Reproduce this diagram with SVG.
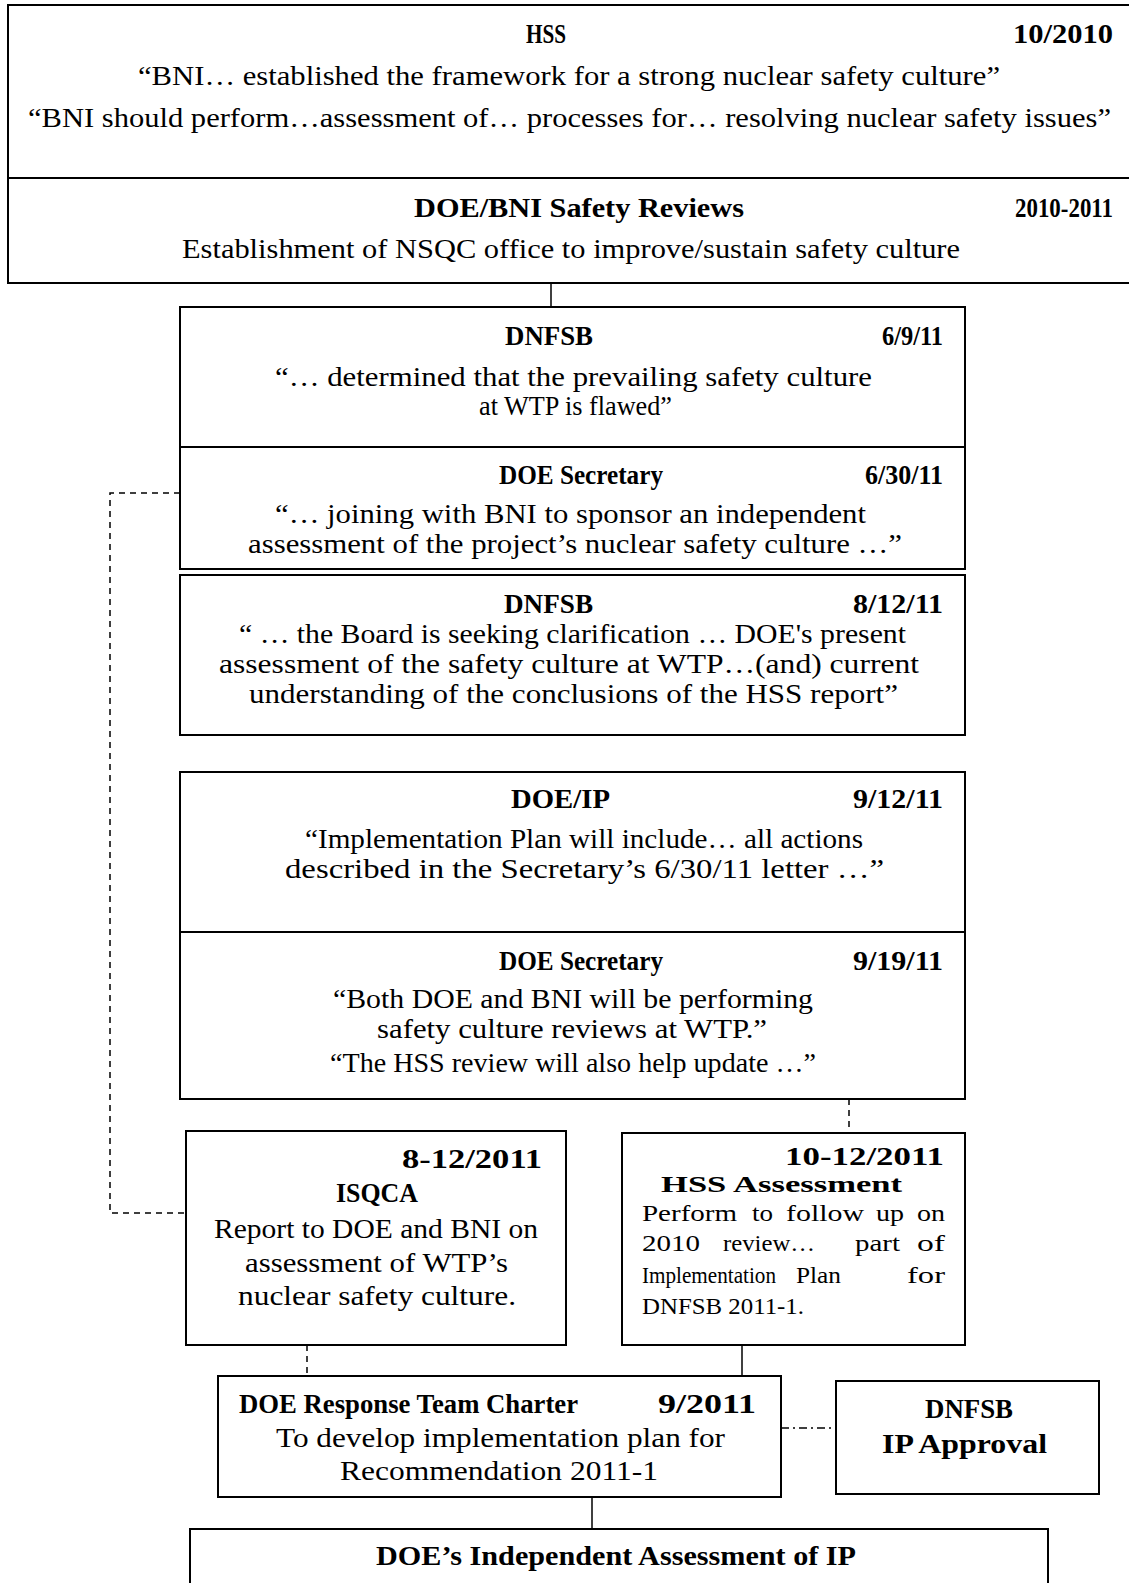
<svg xmlns="http://www.w3.org/2000/svg" width="1129" height="1583" viewBox="0 0 1129 1583">
<style>
rect.box{fill:#fff;stroke:#000;stroke-width:2}
text{font-family:"Liberation Serif","Times New Roman",serif;font-size:26.5px;fill:#000}
text.t{font-weight:bold}
text.big{font-size:28px}
text.d{font-size:25px}
text.h{font-size:24px}
text.tms{font-size:24px}
.solid{stroke:#000;stroke-width:1.5;fill:none}
.dash{stroke:#000;stroke-width:1.5;fill:none;stroke-dasharray:6 5}
.dashdot{stroke:#000;stroke-width:1.5;fill:none;stroke-dasharray:8 4 2 4}
</style>
<rect width="1129" height="1583" fill="#fff"/>
<g id="connectors">
<line class="solid" x1="551" y1="283" x2="551" y2="307"/>
<polyline class="dash" points="180,493 110,493 110,1213 186,1213"/>
<line class="dash" x1="849" y1="1099" x2="849" y2="1133"/>
<line class="dash" x1="307" y1="1345" x2="307" y2="1376"/>
<line class="solid" x1="742" y1="1345" x2="742" y2="1376"/>
<line class="dashdot" x1="781" y1="1428" x2="836" y2="1428"/>
<line class="solid" x1="592" y1="1497" x2="592" y2="1529"/>
</g>
<g id="hss-2010">
<rect class="box" x="8" y="5" width="1140" height="173"/>
<text class="t" x="526" y="43" textLength="40" lengthAdjust="spacingAndGlyphs">HSS</text>
<text class="t" x="1013" y="43" textLength="100" lengthAdjust="spacingAndGlyphs">10/2010</text>
<text x="138" y="85" textLength="862" lengthAdjust="spacingAndGlyphs">“BNI… established the framework for a strong nuclear safety culture”</text>
<text x="28" y="127" textLength="1083" lengthAdjust="spacingAndGlyphs">“BNI should perform…assessment of… processes for…  resolving nuclear safety issues”</text>
</g>
<g id="doe-bni-reviews">
<rect class="box" x="8" y="178" width="1140" height="105"/>
<text class="t" x="414" y="217" textLength="330" lengthAdjust="spacingAndGlyphs">DOE/BNI Safety Reviews</text>
<text class="t" x="1015" y="217" textLength="98" lengthAdjust="spacingAndGlyphs">2010-2011</text>
<text x="182" y="258" textLength="778" lengthAdjust="spacingAndGlyphs">Establishment of NSQC office to improve/sustain safety culture</text>
</g>
<g id="dnfsb-6-9">
<rect class="box" x="180" y="307" width="785" height="140"/>
<text class="t" x="505" y="345" textLength="88" lengthAdjust="spacingAndGlyphs">DNFSB</text>
<text class="t" x="882" y="345" textLength="61" lengthAdjust="spacingAndGlyphs">6/9/11</text>
<text x="275" y="386" textLength="597" lengthAdjust="spacingAndGlyphs">“… determined that the prevailing safety culture</text>
<text x="479" y="415" textLength="193" lengthAdjust="spacingAndGlyphs">at WTP is flawed”</text>
</g>
<g id="doe-sec-6-30">
<rect class="box" x="180" y="447" width="785" height="122"/>
<text class="t" x="499" y="484" textLength="164" lengthAdjust="spacingAndGlyphs">DOE Secretary</text>
<text class="t" x="865" y="484" textLength="78" lengthAdjust="spacingAndGlyphs">6/30/11</text>
<text x="275" y="523" textLength="591" lengthAdjust="spacingAndGlyphs">“… joining with BNI to sponsor an independent</text>
<text x="248" y="553" textLength="654" lengthAdjust="spacingAndGlyphs">assessment of the project’s nuclear safety culture …”</text>
</g>
<g id="dnfsb-8-12">
<rect class="box" x="180" y="575" width="785" height="160"/>
<text class="t" x="504" y="613" textLength="89" lengthAdjust="spacingAndGlyphs">DNFSB</text>
<text class="t" x="853" y="613" textLength="90" lengthAdjust="spacingAndGlyphs">8/12/11</text>
<text x="239" y="643" textLength="667" lengthAdjust="spacingAndGlyphs">“ … the Board is seeking clarification … DOE's present</text>
<text x="219" y="673" textLength="700" lengthAdjust="spacingAndGlyphs">assessment of the safety culture at WTP…(and) current</text>
<text x="249" y="703" textLength="649" lengthAdjust="spacingAndGlyphs">understanding of the conclusions of the HSS report”</text>
</g>
<g id="doe-ip">
<rect class="box" x="180" y="772" width="785" height="160"/>
<text class="t" x="511" y="808" textLength="99" lengthAdjust="spacingAndGlyphs">DOE/IP</text>
<text class="t" x="853" y="808" textLength="90" lengthAdjust="spacingAndGlyphs">9/12/11</text>
<text x="305" y="848" textLength="558" lengthAdjust="spacingAndGlyphs">“Implementation Plan will include… all actions</text>
<text x="285" y="878" textLength="599" lengthAdjust="spacingAndGlyphs">described in the Secretary’s 6/30/11 letter …”</text>
</g>
<g id="doe-sec-9-19">
<rect class="box" x="180" y="932" width="785" height="167"/>
<text class="t" x="499" y="970" textLength="164" lengthAdjust="spacingAndGlyphs">DOE Secretary</text>
<text class="t" x="853" y="970" textLength="90" lengthAdjust="spacingAndGlyphs">9/19/11</text>
<text x="333" y="1008" textLength="480" lengthAdjust="spacingAndGlyphs">“Both DOE and BNI will be performing</text>
<text x="377" y="1038" textLength="390" lengthAdjust="spacingAndGlyphs">safety culture reviews at WTP.”</text>
<text x="330" y="1072" textLength="486" lengthAdjust="spacingAndGlyphs">“The HSS review will also help update …”</text>
</g>
<g id="isqca">
<rect class="box" x="186" y="1131" width="380" height="214"/>
<text class="t big" x="402" y="1168" textLength="140" lengthAdjust="spacingAndGlyphs">8-12/2011</text>
<text class="t" x="336" y="1202" textLength="82" lengthAdjust="spacingAndGlyphs">ISQCA</text>
<text x="214" y="1238" textLength="324" lengthAdjust="spacingAndGlyphs">Report to DOE and BNI on</text>
<text x="245" y="1272" textLength="263" lengthAdjust="spacingAndGlyphs">assessment of WTP’s</text>
<text x="238" y="1305" textLength="278" lengthAdjust="spacingAndGlyphs">nuclear safety culture.</text>
</g>
<g id="hss-assessment">
<rect class="box" x="622" y="1133" width="343" height="212"/>
<text class="t d" x="785" y="1165" textLength="159" lengthAdjust="spacingAndGlyphs">10-12/2011</text>
<text class="t h" x="661" y="1192" textLength="241" lengthAdjust="spacingAndGlyphs">HSS Assessment</text>
<text class="tms" y="1221"><tspan x="642" textLength="95" lengthAdjust="spacingAndGlyphs">Perform</tspan><tspan x="752" textLength="21" lengthAdjust="spacingAndGlyphs">to</tspan><tspan x="786" textLength="78" lengthAdjust="spacingAndGlyphs">follow</tspan><tspan x="876" textLength="28" lengthAdjust="spacingAndGlyphs">up</tspan><tspan x="917" textLength="28" lengthAdjust="spacingAndGlyphs">on</tspan></text>
<text class="tms" y="1251"><tspan x="642" textLength="58" lengthAdjust="spacingAndGlyphs">2010</tspan><tspan x="723" textLength="92" lengthAdjust="spacingAndGlyphs">review…</tspan><tspan x="855" textLength="45" lengthAdjust="spacingAndGlyphs">part</tspan><tspan x="917" textLength="28" lengthAdjust="spacingAndGlyphs">of</tspan></text>
<text class="tms" y="1283"><tspan x="642" textLength="134" lengthAdjust="spacingAndGlyphs">Implementation</tspan><tspan x="796" textLength="45" lengthAdjust="spacingAndGlyphs">Plan</tspan><tspan x="907" textLength="38" lengthAdjust="spacingAndGlyphs">for</tspan></text>
<text class="tms" x="642" y="1314" textLength="162" lengthAdjust="spacingAndGlyphs">DNFSB 2011-1.</text>
</g>
<g id="doe-response">
<rect class="box" x="218" y="1376" width="563" height="121"/>
<text class="t" x="239" y="1413" textLength="339" lengthAdjust="spacingAndGlyphs">DOE Response Team Charter</text>
<text class="t" x="658" y="1413" textLength="98" lengthAdjust="spacingAndGlyphs">9/2011</text>
<text x="276" y="1447" textLength="449" lengthAdjust="spacingAndGlyphs">To develop implementation plan for</text>
<text x="340" y="1480" textLength="318" lengthAdjust="spacingAndGlyphs">Recommendation 2011-1</text>
</g>
<g id="dnfsb-ip-approval">
<rect class="box" x="836" y="1381" width="263" height="113"/>
<text class="t big" x="925" y="1418" textLength="88" lengthAdjust="spacingAndGlyphs">DNFSB</text>
<text class="t big" x="882" y="1453" textLength="165" lengthAdjust="spacingAndGlyphs">IP Approval</text>
</g>
<g id="doe-independent">
<rect class="box" x="190" y="1529" width="858" height="80"/>
<text class="t" x="376" y="1565" textLength="480" lengthAdjust="spacingAndGlyphs">DOE’s Independent Assessment of IP</text>
</g>
</svg>
